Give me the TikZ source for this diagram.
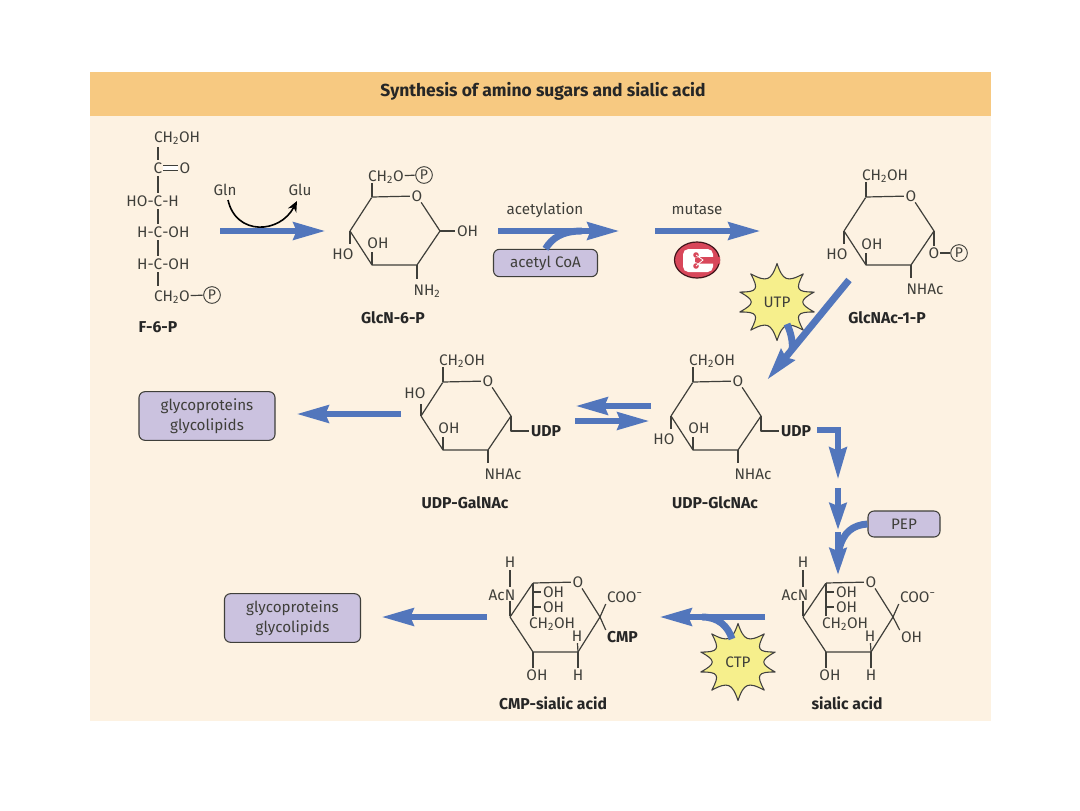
\documentclass[tikz,border=0pt]{standalone}
\usepackage{fontspec}
\setmainfont{Fira Sans}
\usetikzlibrary{arrows.meta,positioning,calc}
\definecolor{panelcream}{HTML}{FDF2E2}
\definecolor{bandorange}{HTML}{F7C981}
\definecolor{flowblue}{HTML}{5276BC}
\definecolor{boxlilac}{HTML}{CBC2DF}
\definecolor{burstyellow}{HTML}{F6EF8C}
\definecolor{inkgray}{HTML}{3F3F3A}
\definecolor{enzred}{HTML}{D8475A}
\tikzset{
  chem/.style={font=\fontsize{11.5}{12}\selectfont,text=inkgray,inner sep=0.6pt,text height=8pt,text depth=0pt},
  tag/.style={font=\fontsize{11.8}{12}\selectfont\bfseries,text=black!85,inner sep=0.6pt,text height=8pt,text depth=0pt},
  caption/.style={font=\fontsize{11.4}{12}\selectfont,text=inkgray,inner sep=0pt},
  bond/.style={draw=inkgray,line width=0.9pt,line join=round,shorten >=0.5pt},
  chain/.style={bond,shorten >=1.5pt,shorten <=1.5pt},
  phos/.style={circle,draw=inkgray,line width=0.7pt,minimum size=12.5pt,inner sep=0pt,font=\fontsize{10.5}{11}\selectfont,text=inkgray},
  flow/.style={draw=flowblue,line width=5.2pt,-{Stealth[length=24pt,width=12.5pt,inset=2pt]}},
  feed/.style={draw=flowblue,line width=5.2pt},
  pool/.style={draw=inkgray,line width=0.8pt,rounded corners=4.5pt,fill=boxlilac,align=center,
    font=\fontsize{11.4}{15}\selectfont,text=inkgray,inner sep=0pt},
  burst/.style={draw=black!75,line width=0.8pt,fill=burstyellow,line join=round}
}
% pyranose ring: four corner carbons, the ring oxygen and their bonds
\newcommand\sugarring[3]{%
  \begin{scope}[shift={(#2,#3)}]
    \coordinate (#1c4) at (0,0);
    \coordinate (#1c5) at (22,-34);
    \coordinate (#1c1) at (90,0);
    \coordinate (#1c2) at (67,34);
    \coordinate (#1c3) at (22,34);
    \node[chem] (#1o) at (67,-35) {O};
    \draw[bond] (#1c5) -- (#1o);
    \draw[bond] (#1o) -- (#1c1) -- (#1c2) -- (#1c3) -- (#1c4) -- (#1c5);
  \end{scope}}
% the ring as drawn for sialic acid and its CMP derivative
\newcommand\nanaring[2]{%
  \begin{scope}[shift={(#2,617)}]
    \coordinate (#1c4) at (0,0);
    \coordinate (#1c5) at (23,-34);
    \coordinate (#1c1) at (90,0);
    \coordinate (#1c2) at (68,35);
    \coordinate (#1c3) at (23,35);
    \node[chem] (#1o) at (68,-35) {O};
    \node[chem] (#1h) at (0,-55) {H};
    \node[chem] (#1n) at (0,-22) {\llap{Ac}N};
    \node[chem,anchor=west] (#1oa) at (32,-25) {OH};
    \node[chem,anchor=west] (#1ob) at (32,-10) {OH};
    \node[chem,anchor=west] (#1ch) at (18,6) {CH\textsubscript{2}OH};
    \node[chem] (#1hb) at (67,19) {H};
    \node[chem] (#1hc) at (68,58) {H};
    \node[chem] (#1oc) at (27,58) {OH};
    \node[chem,anchor=west] (#1coo) at (96,-20) {COO\textsuperscript{−}};
    \draw[bond] (#1c5) -- (#1o);
    \draw[bond] (#1o) -- (#1c1) -- (#1c2) -- (#1c3) -- (#1c4) -- (#1c5);
    \draw[chain] (#1h) -- (#1n);
    \draw[bond] (#1n) -- (#1c4);
    \draw[bond] (#1c5) -- (#1c5 |- #1ch.north);
    \draw[bond] (#1c5 |- #1oa) -- (#1oa.west);
    \draw[bond] (#1c5 |- #1ob) -- (#1ob.west);
    \draw[bond] (#1c2) -- (#1hb);
    \draw[bond] (#1c2) -- (#1hc);
    \draw[bond] (#1c3) -- (#1c3 |- #1oc.north);
    \draw[bond] (#1c1) -- (#1coo.south west);
  \end{scope}}
% ten-pointed energy burst with its label
\newcommand\energyburst[4]{%
  \begin{scope}[shift={(#2,#3)}]
    \filldraw[burst] (90:38.5)
      foreach \a/\b in {90/47,47/15,15/-15,-15/-47,-47/-90,-90/-133,-133/-165,-165/-195,-195/-227,-227/-270}
      { .. controls ({(\a+\b)/2+(\a-\b)*0.14}:22) and ({(\a+\b)/2-(\a-\b)*0.14}:22) .. (\b:38.5) } -- cycle;
    \node[caption] (#1) at (0,0) {#4};
  \end{scope}}
\begin{document}
\begin{tikzpicture}[x=0.75pt,y=-0.75pt]
\useasboundingbox (0,0) rectangle (1080,810);
\fill[white] (0,0) rectangle (1080,810);
\fill[panelcream] (90,72) rectangle (991,721);
\fill[bandorange] (90,72) rectangle (991,116);
\node[font=\fontsize{13.1}{15}\selectfont\bfseries,text=black!85,inner sep=0pt] (title) at (543,91) {Synthesis of amino sugars and sialic acid};

% fructose 6-phosphate, open chain
\node[chem,anchor=west] (fa) at (153,137) {CH\textsubscript{2}OH};
\node[chem] (fb) at (158,168) {C};
\node[chem] (fbo) at (185,168) {O};
\node[chem] (fc) at (158,201) {\llap{HO-}C\rlap{-H}};
\node[chem] (fd) at (158,232) {\llap{H-}C\rlap{-OH}};
\node[chem] (fe) at (158,264) {\llap{H-}C\rlap{-OH}};
\node[chem,anchor=west] (ff) at (153,296) {CH\textsubscript{2}O};
\node[phos] (fp) at (212,295) {P};
\node[tag] (fname) at (158,327) {F-6-P};
\coordinate (fatop) at (158,145);
\coordinate (ffend) at (158,288);
\draw[chain] (fatop) -- (fb);
\draw[chain] (fb) -- (fc);
\draw[chain] (fc) -- (fd);
\draw[chain] (fd) -- (fe);
\draw[chain] (fe) -- (ffend);
\draw[bond,double,double distance=2.6pt,line width=0.7pt] (fb) -- (fbo);
\draw[bond] (ff) -- (fp);

% glucosamine 6-phosphate
\sugarring{g}{350}{231}
\node[chem,anchor=west] (gch) at (367,176) {CH\textsubscript{2}O};
\node[phos] (gp) at (424,175) {P};
\node[chem,anchor=west] (goh) at (456,231) {OH};
\node[chem] (gho) at (343,254) {HO};
\node[chem] (goi) at (378,243) {OH};
\node[chem] (gnh) at (427,290) {NH\textsubscript{2}};
\node[tag] (gname) at (393,318) {GlcN-6-P};
\draw[bond] (gc5) -- (gc5 |- gch.south);
\draw[bond] (gch) -- (gp);
\draw[bond] (gc1) -- (goh);
\draw[bond,line width=1.4pt] (gc4) -- (350,245);
\draw[bond,line width=1.4pt] (gc3) -- (372,251);
\draw[bond] (gc2) -- (417,280);

% N-acetylglucosamine 1-phosphate
\sugarring{n}{844}{231}
\node[chem,anchor=west] (nch) at (861,175) {CH\textsubscript{2}OH};
\node[chem] (nho) at (837,254) {HO};
\node[chem] (noi) at (872,244) {OH};
\node[chem] (nop) at (934,253) {O};
\node[phos] (np) at (959,253) {P};
\node[chem] (nna) at (925,289) {NHAc};
\node[tag] (nname) at (887,318) {GlcNAc-1-P};
\draw[bond] (nc5) -- (nc5 |- nch.south);
\draw[bond,line width=1.4pt] (nc4) -- (844,245);
\draw[bond,line width=1.4pt] (nc3) -- (866,252);
\draw[bond,line width=1.4pt] (nc1) -- (nop);
\draw[bond] (nop) -- (np);
\draw[bond] (nc2) -- (911,279);

% UDP-N-acetylgalactosamine
\sugarring{u}{421}{416}
\node[chem,anchor=west] (uch) at (438,360) {CH\textsubscript{2}OH};
\node[chem] (uho) at (415,393) {HO};
\node[chem] (uoi) at (449,428) {OH};
\node[tag,anchor=west] (uudp) at (530,431) {UDP};
\node[chem] (una) at (503,474) {NHAc};
\node[tag] (uname) at (465,503) {UDP-GalNAc};
\draw[bond] (uc5) -- (uc5 |- uch.south);
\draw[bond,line width=1.4pt] (uc4) -- (421,403);
\draw[bond,line width=1.4pt] (uc3) -- (443,436);
\draw[bond] (uc1) |- (uudp);
\draw[bond] (uc2) -- (488,464);

% UDP-N-acetylglucosamine
\sugarring{v}{671}{416}
\node[chem,anchor=west] (vch) at (688,360) {CH\textsubscript{2}OH};
\node[chem] (vho) at (664,439) {HO};
\node[chem] (voi) at (699,428) {OH};
\node[tag,anchor=west] (vudp) at (780,431) {UDP};
\node[chem] (vna) at (753,474) {NHAc};
\node[tag] (vname) at (715,503) {UDP-GlcNAc};
\draw[bond] (vc5) -- (vc5 |- vch.south);
\draw[bond,line width=1.4pt] (vc4) -- (671,430);
\draw[bond,line width=1.4pt] (vc3) -- (693,436);
\draw[bond] (vc1) |- (vudp);
\draw[bond] (vc2) -- (738,464);

% sialic acid and CMP-sialic acid
\nanaring{s}{803}
\node[chem,anchor=west] (soh) at (900,637) {OH};
\node[tag] (sname) at (847,704) {sialic acid};
\draw[bond] (sc1) -- (soh.north west);
\nanaring{c}{510}
\node[tag,anchor=west] (ccmp) at (606,637) {CMP};
\node[tag] (cname) at (553,704) {CMP-sialic acid};
\draw[bond] (cc1) -- (ccmp.north west);

% end products and cofactors
\node[pool,minimum width=102pt,minimum height=36.5pt] (prodA) at (207,416) {glycoproteins\\glycolipids};
\node[pool,minimum width=102pt,minimum height=36.5pt] (prodB) at (292.5,618) {glycoproteins\\glycolipids};
\node[pool,minimum width=78pt,minimum height=20.5pt] (acoa) at (545.5,263) {acetyl CoA};
\node[pool,minimum width=54pt,minimum height=19.5pt] (pep) at (904,524) {PEP};
\energyburst{utp}{777}{302}{UTP}
\energyburst{ctp}{738}{662}{CTP}

% enzyme symbol
\begin{scope}[shift={(697,260)}]
  \filldraw[draw=black!70!enzred,line width=0.9pt,fill=enzred] (0,0) ellipse [x radius=22.5,y radius=18];
  \fill[white,rounded corners=4pt] (-14,-11) rectangle (16,12);
  \fill[enzred] (-2,-1.5) -- (2,-3) -- (23,-3) -- (23,3.5) -- (2,3.5) -- (-2,2) -- cycle;
  \fill[enzred] (-1,-5) circle [radius=2.8] (-1,6) circle [radius=2.8];
  \draw[white,line width=0.6pt] (-1,-5) -- (6,0) -- (-1,6);
\end{scope}

% Gln to Glu side reaction and the reaction labels
\node[caption] (gln) at (225,190) {Gln};
\node[caption] (glu) at (300,190) {Glu};
\node[caption] (acet) at (545,210) {acetylation};
\node[caption] (mut) at (697,210) {mutase};

% flow connectors
\coordinate (p1a) at (220,231); \coordinate (p1b) at (326,231);
\coordinate (p2a) at (498,231); \coordinate (p2b) at (620,231); \coordinate (p2c) at (582,231);
\coordinate (p3a) at (655,231); \coordinate (p3b) at (761,231);
\coordinate (p4a) at (849,280); \coordinate (p4b) at (767,380); \coordinate (p4c) at (792,350); \coordinate (p4d) at (787,324);
\coordinate (p5a) at (401,414); \coordinate (p5b) at (296,414);
\coordinate (p6a) at (651,406); \coordinate (p6b) at (575,406);
\coordinate (p7a) at (575,421); \coordinate (p7b) at (650,421);
\coordinate (p8a) at (817,430); \coordinate (p8b) at (838,430); \coordinate (p8c) at (838,480);
\coordinate (p9a) at (838,488); \coordinate (p9b) at (838,530);
\coordinate (p10a) at (838,532); \coordinate (p10b) at (838,575); \coordinate (p10c) at (839,550);
\coordinate (p11a) at (765,617); \coordinate (p11b) at (659,617); \coordinate (p11c) at (702,617); \coordinate (p11d) at (732,639);
\coordinate (p12a) at (487,617); \coordinate (p12b) at (381,617);

\draw[flow] (p1a) -- (p1b);
\draw[feed] (acoa.north) .. controls (552,238) and (562,231) .. (p2c);
\draw[flow] (p2a) -- (p2b);
\draw[flow] (p3a) -- (p3b);
\draw[feed] (p4d) .. controls (791,333) and (793,342) .. (p4c);
\draw[flow] (p4a) -- (p4b);
\draw[flow] (p5a) -- (p5b);
\draw[flow] (p6a) -- (p6b);
\draw[flow] (p7a) -- (p7b);
\draw[flow] (p8a) -- (p8b) -- (p8c);
\draw[flow,-{Stealth[length=20pt,width=12.5pt,inset=2pt]}] (p9a) -- (p9b);
\draw[feed] (pep.west) .. controls (853,525) and (843,532) .. (p10c);
\draw[flow,-{Stealth[length=20pt,width=12.5pt,inset=2pt]}] (p10a) -- (p10b);
\draw[feed] (p11d) .. controls (728,626) and (718,617) .. (p11c);
\draw[flow] (p11a) -- (p11b);
\draw[flow] (p12a) -- (p12b);
\coordinate (glnend) at (228,200); \coordinate (gluend) at (297,201);
\draw[draw=black,line width=1.2pt,-{Stealth[length=8pt,width=7pt]}] (glnend) .. controls (236,236) and (280,234) .. (gluend);
\end{tikzpicture}
\end{document}
